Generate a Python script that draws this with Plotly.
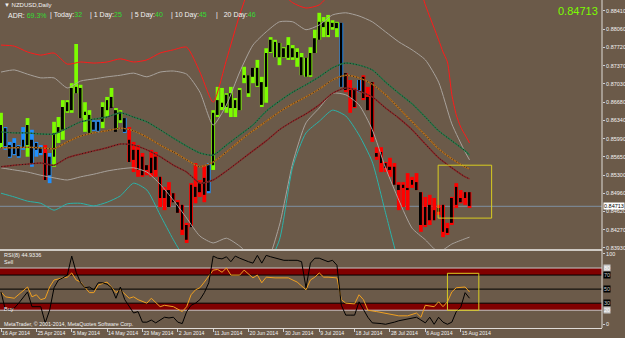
import plotly.graph_objects as go

BG = "#6b5a49"

# ---------------- data ----------------
# bar index 0 = 16 Apr 2014 ... 106 = 18 Aug 2014 (broker with Sunday sessions)
date_ticks = [0, 8, 16, 24, 32, 40, 48, 56, 64, 72, 80, 88, 96, 104]
date_labels = ["16 Apr 2014", "25 Apr 2014", "5 May 2014", "14 May 2014", "23 May 2014",
               "2 Jun 2014", "11 Jun 2014", "20 Jun 2014", "30 Jun 2014", "9 Jul 2014",
               "18 Jul 2014", "28 Jul 2014", "6 Aug 2014", "15 Aug 2014"]
price_ticks = [0.88410, 0.88060, 0.87720, 0.87370, 0.87030, 0.86680, 0.86340,
               0.85990, 0.85650, 0.85300, 0.84960, 0.84620, 0.84270, 0.83930]
last_price = 0.84713

# G = green (up), B = blue (weak), R = red (down)
bar_state = "GBBBBBGBBBRBGGGGGGGGGBBGGGGGBRRRRRRRRRRRRRRRRRRBGGGGGGGGGGGGGGGGGGGGGGGGGGGGGBRRRBRRRRRRRRRRRRRRRRRRRRRRRRR"

col_top = [0.8648,0.8621,0.8593,0.8600,0.8587,0.8621,0.8638,0.8616,0.8593,0.8587,
           0.8587,0.8572,0.8631,0.8640,0.8672,0.8672,0.8704,0.8778,0.8701,0.8668,
           0.8653,0.8634,0.8634,0.8668,0.8678,0.8695,0.8657,0.8653,0.8638,0.8621,
           0.8593,0.8587,0.8572,0.8549,0.8578,0.8574,0.8527,0.8508,0.8517,0.8496,
           0.8483,0.8474,0.8440,0.8515,0.8553,0.8521,0.8549,0.8553,0.8653,0.8697,
           0.8695,0.8685,0.8697,0.8676,0.8695,0.8735,0.8719,0.8733,0.8748,0.8716,
           0.8770,0.8791,0.8786,0.8780,0.8772,0.8791,0.8776,0.8770,0.8761,0.8752,
           0.8772,0.8805,0.8837,0.8829,0.8833,0.8823,0.8820,0.8818,0.8723,0.8710,
           0.8695,0.8710,0.8719,0.8697,0.8706,0.8583,0.8583,0.8555,0.8563,0.8553,
           0.8517,0.8517,0.8534,0.8527,0.8534,0.8498,0.8489,0.8493,0.8487,0.8474,
           0.8474,0.8440,0.8489,0.8515,0.8502,0.8498,0.8498]
col_bot = [0.8582,0.8578,0.8563,0.8568,0.8563,0.8578,0.8565,0.8546,0.8565,0.8568,
           0.8521,0.8515,0.8546,0.8591,0.8597,0.8648,0.8648,0.8685,0.8638,0.8612,
           0.8610,0.8614,0.8610,0.8619,0.8640,0.8659,0.8616,0.8629,0.8610,0.8555,
           0.8536,0.8527,0.8527,0.8530,0.8527,0.8527,0.8470,0.8464,0.8470,0.8479,
           0.8459,0.8417,0.8402,0.8432,0.8477,0.8489,0.8479,0.8496,0.8540,0.8640,
           0.8653,0.8648,0.8640,0.8640,0.8653,0.8704,0.8678,0.8704,0.8697,0.8659,
           0.8667,0.8761,0.8753,0.8738,0.8752,0.8748,0.8748,0.8735,0.8719,0.8716,
           0.8716,0.8761,0.8786,0.8791,0.8791,0.8805,0.8791,0.8697,0.8687,0.8648,
           0.8657,0.8687,0.8672,0.8653,0.8593,0.8559,0.8536,0.8536,0.8527,0.8512,
           0.8464,0.8470,0.8464,0.8506,0.8502,0.8423,0.8432,0.8436,0.8445,0.8455,
           0.8413,0.8417,0.8436,0.8468,0.8477,0.8474,0.8468]
body_top = [0.8625,0.8619,0.8587,0.8591,0.8585,0.8597,0.8625,0.8597,0.8591,0.8583,
            0.8572,0.8565,0.8610,0.8621,0.8659,0.8668,0.8695,0.8697,0.8695,0.8650,
            0.8644,0.8631,0.8631,0.8659,0.8672,0.8678,0.8653,0.8650,0.8638,0.8597,
            0.8578,0.8578,0.8565,0.8549,0.8563,0.8565,0.8527,0.8502,0.8502,0.8496,
            0.8479,0.8474,0.8436,0.8512,0.8508,0.8515,0.8525,0.8549,0.8648,0.8672,
            0.8667,0.8682,0.8685,0.8672,0.8691,0.8719,0.8719,0.8733,0.8733,0.8706,
            0.8761,0.8786,0.8782,0.8780,0.8770,0.8776,0.8770,0.8763,0.8753,0.8752,
            0.8761,0.8789,0.8820,0.8820,0.8820,0.8818,0.8818,0.8818,0.8723,0.8691,
            0.8691,0.8710,0.8716,0.8678,0.8706,0.8572,0.8574,0.8553,0.8546,0.8546,
            0.8512,0.8512,0.8506,0.8521,0.8517,0.8498,0.8470,0.8474,0.8464,0.8468,
            0.8474,0.8430,0.8487,0.8508,0.8487,0.8498,0.8498]
body_bot = [0.8591,0.8585,0.8565,0.8570,0.8566,0.8582,0.8587,0.8553,0.8578,0.8572,
            0.8521,0.8530,0.8565,0.8610,0.8616,0.8651,0.8653,0.8685,0.8638,0.8644,
            0.8610,0.8616,0.8614,0.8631,0.8653,0.8657,0.8612,0.8634,0.8612,0.8555,
            0.8559,0.8540,0.8530,0.8540,0.8534,0.8540,0.8487,0.8487,0.8470,0.8479,
            0.8459,0.8427,0.8408,0.8432,0.8489,0.8498,0.8493,0.8500,0.8549,0.8644,
            0.8659,0.8659,0.8657,0.8657,0.8653,0.8714,0.8685,0.8716,0.8699,0.8663,
            0.8697,0.8763,0.8753,0.8753,0.8753,0.8752,0.8753,0.8752,0.8719,0.8716,
            0.8719,0.8761,0.8786,0.8810,0.8795,0.8810,0.8808,0.8697,0.8691,0.8676,
            0.8659,0.8691,0.8676,0.8653,0.8602,0.8565,0.8553,0.8544,0.8540,0.8512,
            0.8502,0.8506,0.8502,0.8512,0.8502,0.8436,0.8436,0.8445,0.8445,0.8461,
            0.8423,0.8421,0.8440,0.8474,0.8479,0.8487,0.8472]

line_idx = [0, 3, 6, 9, 12, 15, 18, 21, 24, 27, 30, 33, 36, 39, 42, 45, 48, 51, 54,
            57, 60, 63, 66, 69, 72, 75, 78, 81, 84, 87, 90, 93, 96, 99, 102, 105, 106]
ma_green = [0.8612,0.8610,0.8610,0.8608,0.8608,0.8619,0.8631,0.8636,0.8640,0.8648,
            0.8640,0.8631,0.8616,0.8600,0.8585,0.8572,0.8568,0.8587,0.8606,0.8625,
            0.8651,0.8670,0.8687,0.8701,0.8716,0.8733,0.8742,0.8738,0.8729,0.8706,
            0.8685,0.8665,0.8640,0.8614,0.8595,0.8576,0.8568]
ma_orange = [0.8582,0.8582,0.8583,0.8582,0.8580,0.8593,0.8604,0.8610,0.8614,0.8619,
             0.8614,0.8602,0.8587,0.8574,0.8559,0.8546,0.8555,0.8574,0.8595,0.8614,
             0.8632,0.8650,0.8665,0.8678,0.8693,0.8710,0.8719,0.8714,0.8702,0.8682,
             0.8657,0.8631,0.8606,0.8580,0.8561,0.8546,0.8542]
ma_maroon = [0.8546,0.8549,0.8551,0.8553,0.8549,0.8563,0.8570,0.8576,0.8582,0.8589,
             0.8587,0.8578,0.8565,0.8549,0.8536,0.8515,0.8521,0.8538,0.8557,0.8576,
             0.8595,0.8616,0.8632,0.8646,0.8663,0.8685,0.8695,0.8689,0.8678,0.8657,
             0.8638,0.8616,0.8589,0.8563,0.8544,0.8527,0.8523]
band_grey_up = [0.8725,0.8729,0.8721,0.8714,0.8714,0.8695,0.8708,0.8712,0.8716,0.8719,
                0.8723,0.8716,0.8725,0.8727,0.8721,0.8687,0.8625,0.8663,0.8725,0.8776,
                0.8801,0.8820,0.8820,0.8805,0.8814,0.8833,0.8837,0.8831,0.8820,0.8801,
                0.8782,0.8767,0.8748,0.8706,0.8627,0.8574,0.8559]
band_grey_dn = [0.8544,0.8540,0.8536,0.8530,0.8525,0.8521,0.8527,0.8532,0.8538,0.8542,
                0.8544,0.8536,0.8513,0.8483,0.8449,0.8415,0.8402,0.8411,0.8396,0.8374,
                0.8366,0.8436,0.8553,0.8629,0.8657,0.8685,0.8682,0.8663,0.8616,0.8544,
                0.8483,0.8430,0.8408,0.8385,0.8400,0.8410,0.8413]
band_cyan = [0.8496,0.8489,0.8481,0.8477,0.8464,0.8476,0.8477,0.8472,0.8479,0.8491,
             0.8515,0.8502,0.8455,0.8408,0.8366,0.8332,0.8313,0.8304,0.8313,0.8332,
             0.8355,0.8408,0.8546,0.8610,0.8632,0.8653,0.8642,0.8606,0.8555,0.8459,
             0.8366,0.8313,0.8285,0.8275,0.8275,0.8279,0.8285]
red_idx = [0, 3, 6, 9, 12, 15, 18, 21, 24, 27, 30, 33, 36, 39, 42, 45, 48, 51, 54, 57,
           60, 63, 66, 69, 72, 75, 78, 81, 84, 87, 90, 93, 96, 99, 100, 101, 102, 103,
           104, 105, 106]
band_red = [0.8776,0.8774,0.8763,0.8757,0.8761,0.8740,0.8744,0.8742,0.8744,0.8750,
            0.8744,0.8748,0.8761,0.8767,0.8772,0.8725,0.8668,0.8748,0.8833,0.8899,
            0.8918,0.8880,0.8856,0.8846,0.8852,0.8880,0.8937,0.8946,0.8946,0.8946,
            0.8937,0.8927,0.8852,0.8786,0.8763,0.8744,0.8682,0.8644,0.8621,0.8606,0.8591]

rsi_black_idx = list(range(0, 107))
rsi_black = [46,20,21,23,30,38,46,25,25,25,2,20,52,63,66,70,97,74,59,52,
             53,49,59,59,57,52,37,53,35,25,16,18,3,3,6,2,6,10,9,10,
             3,1,18,27,30,35,45,59,97,94,93,96,89,97,94,91,89,87,98,87,
             98,96,94,93,91,91,91,91,89,52,87,94,94,91,89,91,84,27,13,13,
             13,32,20,10,2,2,1,0,1,3,5,6,7,9,10,6,2,10,0,10,
             3,0,3,18,24,45,37]
rsi_orange_idx = [0,1,3,4,6,7,8,9,10,11,12,14,15,16,17,18,20,21,22,24,25,26,27,29,30,31,
                  33,34,36,37,39,41,42,43,44,45,46,48,49,50,51,52,54,55,57,58,59,60,62,
                  65,67,69,70,71,72,73,74,75,76,77,78,80,81,82,83,85,87,89,90,92,94,95,
                  96,98,99,100,101,102,103,105,106]
rsi_orange = [46,39,37,42,53,39,42,35,37,53,63,66,67,73,63,60,45,45,56,60,53,45,49,37,39,35,
              30,37,25,27,25,18,25,42,49,52,60,77,78,74,80,70,70,77,66,70,59,67,66,
              66,60,49,63,67,73,67,67,66,66,35,30,29,42,35,20,18,16,13,12,12,16,10,
              27,25,32,25,32,46,52,53,46]
rsi_levels = [80, 70, 50, 30, 20]

box_main = dict(x0=98.9, x1=111.0, y0=0.8449, y1=0.8549)
box_rsi = dict(x0=101.0, x1=108.1, y0=19.9, y1=72.5)

# ---------------- figure ----------------
W, H = 625, 338
ML, MR, MT, MB = 0, 23, 0, 10
PW, PH = W - ML - MR, H - MT - MB
MAIN_BOTTOM_PX, RSI_TOP_PX = 250, 252

def px(x):
    return x / PW

def py(y):
    return 1 - y / PH

fig = go.Figure()

colors = {"G": "#7CFC00", "B": "#1E90FF", "R": "#FF0000"}
for code, c in colors.items():
    idx = [i for i, s in enumerate(bar_state) if s == code]
    fig.add_trace(go.Bar(x=idx, base=[col_bot[i] for i in idx],
                         y=[col_top[i] - col_bot[i] for i in idx],
                         width=0.85, marker=dict(color=c, line=dict(width=0)),
                         xaxis="x", yaxis="y"))
fig.add_trace(go.Bar(x=list(range(len(body_top))), base=body_bot,
                     y=[t - b for t, b in zip(body_top, body_bot)],
                     width=0.45, marker=dict(color="#000000", line=dict(width=0)),
                     xaxis="x", yaxis="y"))

def line(x, y, color, width=1, dash=None, yaxis="y"):
    fig.add_trace(go.Scatter(x=x, y=y, mode="lines",
                             line=dict(color=color, width=width, dash=dash, shape="spline", smoothing=0.6),
                             xaxis="x", yaxis=yaxis, hoverinfo="skip"))

line(red_idx, band_red, "#FF1a1a", 1)
line(line_idx, band_grey_up, "#a8a29c", 1)
line(line_idx, band_grey_dn, "#a8a29c", 1)
line(line_idx, band_cyan, "#2ab3aa", 1)
for vals, c in [(ma_green, "#287a4a"), (ma_orange, "#b8701c"), (ma_maroon, "#8a2424")]:
    line(line_idx, vals, c, 1.4)
    line(line_idx, vals, "#141414", 0.8, dash="1px,2px")

# RSI panel
fig.add_trace(go.Scatter(x=rsi_orange_idx, y=rsi_orange, mode="lines",
                         line=dict(color="#f0a020", width=1), xaxis="x", yaxis="y2"))
fig.add_trace(go.Scatter(x=rsi_black_idx, y=rsi_black, mode="lines",
                         line=dict(color="#000000", width=1), xaxis="x", yaxis="y2"))

shapes = []
for lo, hi in [(70, 80), (20, 30)]:
    shapes.append(dict(type="rect", xref="paper", yref="y2", x0=0, x1=1, y0=lo, y1=hi,
                       fillcolor="#800000", line=dict(width=0), layer="below"))
for lv in rsi_levels:
    col = "#c8c8c8" if lv in (80, 20) else "#000000"
    shapes.append(dict(type="line", xref="paper", yref="y2", x0=0, x1=1, y0=lv, y1=lv,
                       line=dict(color=col, width=1), layer="below"))
shapes.append(dict(type="line", xref="paper", yref="y", x0=0, x1=1, y0=last_price, y1=last_price,
                   line=dict(color="#7f8fa2", width=1), layer="below"))
shapes.append(dict(type="line", xref="paper", yref="paper", x0=0, x1=1,
                   y0=py(MAIN_BOTTOM_PX), y1=py(MAIN_BOTTOM_PX), line=dict(color="#cfcac4", width=2)))
shapes.append(dict(type="line", xref="paper", yref="paper", x0=1, x1=1, y0=0, y1=1,
                   line=dict(color="#e0dcd8", width=1)))
shapes.append(dict(type="rect", xref="x", yref="y", **box_main, line=dict(color="#d8cc20", width=1)))
shapes.append(dict(type="rect", xref="x", yref="y2", **box_rsi, line=dict(color="#d8cc20", width=1)))

FONT = "Liberation Sans, Arial, sans-serif"
WHITE = "#f2f2f2"
GREEN = "#33dd33"
ann = []

def text(x, y, s, size, color=WHITE, anchor="left", **kw):
    ann.append(dict(x=px(x), y=py(y), xref="paper", yref="paper", text=s, showarrow=False,
                    xanchor=anchor, yanchor="middle", font=dict(family=FONT, size=size, color=color), **kw))

text(2, 5, "▼ NZDUSD,Daily", 6)
text(6, 15, f"ADR: <span style='color:{GREEN}'>69.3%</span>", 7)
text(48, 15, f"| Today:<span style='color:{GREEN}'>32</span>", 7)
text(88, 15, f"| 1 Day:<span style='color:{GREEN}'>25</span>", 7)
text(129, 15, f"| 5 Day:<span style='color:{GREEN}'>40</span>", 7)
text(169, 15, f"| 10 Day:<span style='color:{GREEN}'>45</span>", 7)
text(214, 15, f"|   20 Day:<span style='color:{GREEN}'>46</span>", 7)
text(600, 11, f"{last_price:.5f}", 11, color="#7CFC00", anchor="right")
text(2, 255, "RSI(8) 44.9336", 5.5)
text(2, 262, "Sell", 5.5)
text(2, 309, "Buy", 5.5)
text(2, 324, "MetaTrader, © 2001-2014, MetaQuotes Software Corp.", 5.3)

ann.append(dict(x=1, y=last_price, xref="paper", yref="y", text=f"{last_price:.5f}", showarrow=False,
                xanchor="left", yanchor="middle", xshift=1, bgcolor="#ffffff", borderpad=0,
                font=dict(family=FONT, size=5.5, color="#000000")))
for lv in rsi_levels:
    grey = lv in (80, 20)
    ann.append(dict(x=1, y=lv, xref="paper", yref="y2", text=str(lv), showarrow=False,
                    xanchor="left", yanchor="middle", xshift=1,
                    bgcolor="#c8c8c8" if grey else "#000000", borderpad=0,
                    font=dict(family=FONT, size=5.5, color="#ffffff" if grey else "#c8c8c8")))

fig.update_layout(
    width=W, height=H, margin=dict(l=ML, r=MR, t=MT, b=MB, autoexpand=False),
    paper_bgcolor=BG, plot_bgcolor=BG, showlegend=False, barmode="overlay",
    hovermode=False, shapes=shapes, annotations=ann,
    xaxis=dict(domain=[0, 1], range=[-0.23, 135.97], anchor="y2", showgrid=False, zeroline=False,
               tickvals=date_ticks, ticktext=date_labels, ticks="outside", ticklen=3,
               tickcolor="#d0d0d0", ticklabelposition="outside right", tickangle=0,
               automargin=False,
               tickfont=dict(family=FONT, size=5.2, color=WHITE),
               showline=True, linecolor="#e0dcd8", linewidth=1),
    yaxis=dict(domain=[py(MAIN_BOTTOM_PX), 1], range=[0.83887, 0.88612], side="right", anchor="x",
               showgrid=False, zeroline=False, tickvals=price_ticks, automargin=False,
               ticktext=[f"{v:.5f}" for v in price_ticks], ticks="outside", ticklen=2,
               tickcolor="#d0d0d0", tickfont=dict(family=FONT, size=5.5, color=WHITE)),
    yaxis2=dict(domain=[0, py(RSI_TOP_PX)], range=[-5.3, 102.8], side="right", anchor="x",
                showgrid=False, zeroline=False, tickvals=[0, 100], ticktext=["0", "100"],
                ticks="outside", ticklen=2, tickcolor="#d0d0d0", automargin=False,
                tickfont=dict(family=FONT, size=5.5, color=WHITE)),
)

fig.write_html("out.html")
